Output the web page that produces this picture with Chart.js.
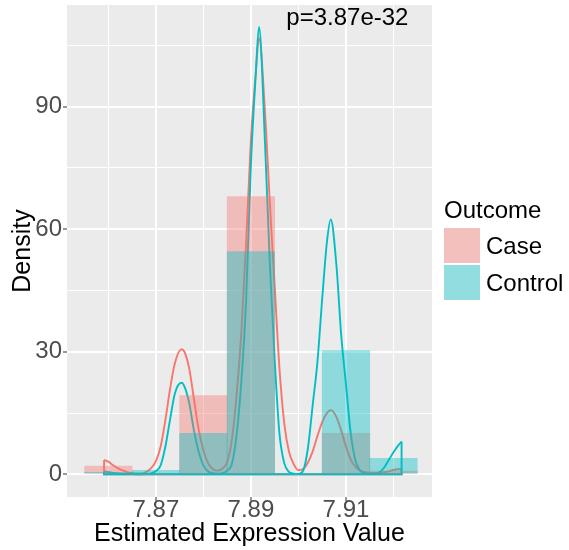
<!DOCTYPE html>
<html>
<head>
<meta charset="utf-8">
<script src="https://cdn.jsdelivr.net/npm/chart.js@4.4.1/dist/chart.umd.min.js"></script>
<style>
html, body { margin: 0; padding: 0; background: #ffffff; }
canvas { display: block; }
</style>
</head>
<body>
<canvas id="chart" width="569" height="550"></canvas>
<script>
// Histogram bins (centres, bin width 0.01) with density heights per outcome group
const binCenters  = [7.86, 7.87, 7.88, 7.89, 7.90, 7.91, 7.92];
const caseHist    = [2.0, 0, 19.3, 68.0, 0, 10.0, 0.8];
const controlHist = [0.5, 1.0, 10.0, 54.5, 0, 30.3, 3.9];

// Kernel density estimates sampled across the observed expression range
const densityX = [
  7.8591, 7.860, 7.861, 7.862, 7.863, 7.864, 7.865, 7.866, 7.867, 7.868,
  7.869, 7.870, 7.871, 7.872, 7.873, 7.874, 7.8754, 7.876, 7.877, 7.878,
  7.879, 7.880, 7.881, 7.882, 7.883, 7.884, 7.885, 7.886, 7.887, 7.888,
  7.889, 7.890, 7.891, 7.8917, 7.893, 7.894, 7.895, 7.896, 7.897, 7.898,
  7.899, 7.900, 7.901, 7.902, 7.903, 7.904, 7.905, 7.906, 7.9068, 7.908,
  7.909, 7.910, 7.911, 7.912, 7.913, 7.914, 7.915, 7.916, 7.917, 7.918,
  7.919, 7.920, 7.921, 7.9217
];
const caseDensity = [
  3.5, 3.1, 2.2, 1.5, 0.95, 0.55, 0.3, 0.2, 0.2, 0.6,
  1.5, 3.2, 6.8, 13.3, 21.0, 27.2, 30.6, 30.0, 26.0, 18.5,
  11.0, 5.9, 2.7, 1.25, 0.9, 1.4, 3.0, 8.5, 19.5, 35.0,
  57.0, 82.0, 98.0, 106.8, 88.0, 66.0, 46.0, 26.0, 12.6, 5.6,
  2.5, 1.0, 1.3, 2.9, 5.6, 9.4, 12.8, 15.0, 15.7, 14.0,
  10.7, 6.8, 3.6, 1.8, 0.9, 0.5, 0.35, 0.3, 0.4, 0.5,
  0.7, 1.05, 1.25, 1.3
];
const controlDensity = [
  0.7, 0.55, 0.35, 0.2, 0.1, 0.05, 0.03, 0.02, 0.02, 0.05,
  0.2, 0.8, 2.2, 6.8, 13.5, 19.8, 22.4, 21.5, 17.5, 10.8,
  5.5, 2.2, 0.7, 0.25, 0.15, 0.3, 0.9, 2.6, 9.8, 23.0,
  43.0, 76.0, 97.5, 109.5, 80.0, 51.0, 28.0, 10.0, 2.8, 0.6,
  0.15, 0.05, 0.9, 6.5, 17.0, 27.6, 43.0, 57.0, 62.4, 51.0,
  34.0, 22.0, 10.0, 3.3, 0.9, 0.3, 0.1, 0.05, 0.4, 1.6,
  3.5, 5.4, 7.1, 8.0
];

// Axis ticks: labelled (major) and unlabelled (minor) grid positions
const xMajorTicks = [7.87, 7.89, 7.91];
const xMinorTicks = [7.86, 7.88, 7.90, 7.92];
const yMajorTicks = [0, 30, 60, 90];
const yMinorTicks = [15, 45, 75, 105];

const groupNames = ['Case', 'Control'];
const legendTitle = 'Outcome';
const pValueText = 'p=3.87e-32';
const pValueAt = { x: 7.9103, y: 111.6 };

const COLORS = {
  case: '#F8766D',
  control: '#00BFC4',
  caseFill: 'rgba(248,118,109,0.4)',
  controlFill: 'rgba(0,191,196,0.4)',
  panel: '#EBEBEB',
  tickText: '#4D4D4D',
  tickMark: '#333333'
};
const FONT = '"Liberation Sans", Arial, Helvetica, sans-serif';

const toPoints = (xs, ys) => xs.map((x, i) => ({ x: x, y: ys[i] }));
// Closing edges of a density outline: drop to the baseline at both ends
const outline = (xs, ys) => {
  const n = xs.length - 1;
  return [
    { x: xs[0], y: ys[0] }, { x: xs[0], y: 0 },
    { x: xs[n], y: 0 }, { x: xs[n], y: ys[n] }
  ];
};

const isMajorX = v => xMajorTicks.some(t => Math.abs(t - v) < 1e-9);
const isMajorY = v => yMajorTicks.some(t => Math.abs(t - v) < 1e-9);

const noScalePadding = s => {
  s.paddingTop = 0; s.paddingBottom = 0; s.paddingLeft = 0; s.paddingRight = 0;
};

const panelBackground = {
  id: 'panelBackground',
  beforeDraw(chart) {
    const { ctx, chartArea: a } = chart;
    ctx.save();
    ctx.fillStyle = COLORS.panel;
    ctx.fillRect(a.left, a.top, a.right - a.left, a.bottom - a.top);
    ctx.restore();
  }
};

const sideLegend = {
  id: 'sideLegend',
  afterDraw(chart) {
    const { ctx } = chart;
    const x0 = 444, keyW = 36, keyH = 35;
    const keys = [
      { y: 228, fill: COLORS.caseFill, label: groupNames[0] },
      { y: 265, fill: COLORS.controlFill, label: groupNames[1] }
    ];
    ctx.save();
    ctx.font = '24px ' + FONT;
    ctx.fillStyle = '#000000';
    ctx.textAlign = 'left';
    ctx.textBaseline = 'alphabetic';
    ctx.fillText(legendTitle, x0, 218);
    keys.forEach(k => {
      ctx.fillStyle = '#F2F2F2';
      ctx.fillRect(x0, k.y, keyW, keyH);
      ctx.fillStyle = k.fill;
      ctx.fillRect(x0, k.y, keyW, keyH);
      ctx.fillStyle = '#000000';
      ctx.fillText(k.label, x0 + 42, k.y + keyH / 2 + 8.5);
    });
    // p-value annotation inside the panel
    const xs = chart.scales.x, ys = chart.scales.y;
    ctx.textAlign = 'center';
    ctx.textBaseline = 'middle';
    ctx.fillText(pValueText, xs.getPixelForValue(pValueAt.x), ys.getPixelForValue(pValueAt.y));
    ctx.restore();
  }
};

new Chart(document.getElementById('chart'), {
  type: 'bar',
  data: {
    datasets: [
      {
        label: groupNames[1] + ' histogram',
        data: toPoints(binCenters, controlHist),
        backgroundColor: COLORS.controlFill,
        borderWidth: 0,
        grouped: false,
        barPercentage: 1.0,
        categoryPercentage: 1.0,
        order: 0
      },
      {
        label: groupNames[0] + ' histogram',
        data: toPoints(binCenters, caseHist),
        backgroundColor: COLORS.caseFill,
        borderWidth: 0,
        grouped: false,
        barPercentage: 1.0,
        categoryPercentage: 1.0,
        order: 1
      },
      {
        type: 'line',
        label: groupNames[1] + ' density',
        data: toPoints(densityX, controlDensity),
        borderColor: COLORS.control,
        borderWidth: 1.9,
        pointRadius: 0,
        fill: false,
        cubicInterpolationMode: 'monotone',
        order: 2
      },
      {
        type: 'line',
        label: groupNames[1] + ' density edge',
        data: outline(densityX, controlDensity),
        borderColor: COLORS.control,
        borderWidth: 1.9,
        pointRadius: 0,
        fill: false,
        tension: 0,
        order: 3
      },
      {
        type: 'line',
        label: groupNames[0] + ' density',
        data: toPoints(densityX, caseDensity),
        borderColor: COLORS.case,
        borderWidth: 1.9,
        pointRadius: 0,
        fill: false,
        cubicInterpolationMode: 'monotone',
        order: 4
      },
      {
        type: 'line',
        label: groupNames[0] + ' density edge',
        data: outline(densityX, caseDensity),
        borderColor: COLORS.case,
        borderWidth: 1.9,
        pointRadius: 0,
        fill: false,
        tension: 0,
        order: 5
      }
    ]
  },
  options: {
    responsive: false,
    animation: false,
    devicePixelRatio: 1,
    events: [],
    layout: { padding: { top: 5, right: 137, left: 0, bottom: 0 } },
    plugins: { legend: { display: false }, tooltip: { enabled: false } },
    scales: {
      x: {
        type: 'linear',
        min: 7.8513,
        max: 7.9281,
        offset: false,
        afterFit: s => { s.height = 53; noScalePadding(s); },
        afterBuildTicks: s => {
          s.ticks = xMajorTicks.concat(xMinorTicks).sort((a, b) => a - b).map(v => ({ value: v }));
        },
        ticks: {
          autoSkip: false,
          maxRotation: 0,
          padding: -2.5,
          color: COLORS.tickText,
          font: { family: FONT, size: 24, lineHeight: 1 },
          callback: v => (isMajorX(v) ? v.toFixed(2) : '')
        },
        grid: {
          offset: false,
          color: '#FFFFFF',
          lineWidth: c => (c.tick && isMajorX(c.tick.value) ? 2 : 1),
          tickLength: 4,
          tickWidth: 1,
          tickColor: c => (c.tick && isMajorX(c.tick.value) ? COLORS.tickMark : 'rgba(0,0,0,0)')
        },
        border: { display: false },
        title: {
          display: true,
          text: 'Estimated Expression Value',
          color: '#000000',
          font: { family: FONT, size: 25 },
          padding: { top: 0, bottom: 1 }
        }
      },
      y: {
        type: 'linear',
        min: -5.56,
        max: 114.9,
        afterFit: s => { s.width = 67; noScalePadding(s); },
        afterBuildTicks: s => {
          s.ticks = yMajorTicks.concat(yMinorTicks).sort((a, b) => a - b).map(v => ({ value: v }));
        },
        ticks: {
          autoSkip: false,
          padding: 1,
          color: COLORS.tickText,
          font: { family: FONT, size: 24 },
          callback: v => (isMajorY(v) ? String(v) : '')
        },
        grid: {
          color: '#FFFFFF',
          lineWidth: c => (c.tick && isMajorY(c.tick.value) ? 2 : 1),
          tickLength: 4,
          tickWidth: 1,
          tickColor: c => (c.tick && isMajorY(c.tick.value) ? COLORS.tickMark : 'rgba(0,0,0,0)')
        },
        border: { display: false },
        title: {
          display: true,
          text: 'Density',
          color: '#000000',
          font: { family: FONT, size: 25 },
          padding: { top: 8, bottom: 0 }
        }
      }
    }
  },
  plugins: [panelBackground, sideLegend]
});
</script>
</body>
</html>
